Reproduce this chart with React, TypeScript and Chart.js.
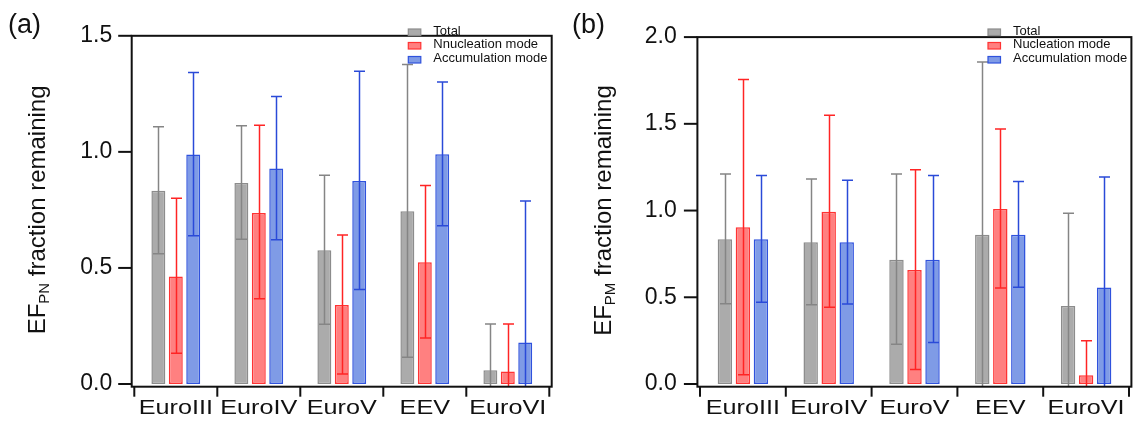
import React, { useEffect, useRef } from 'react';
import { Chart, registerables } from 'chart.js';

Chart.register(...registerables);

const FF = "'Liberation Sans', Arial, Helvetica, sans-serif";

const categories = ['EuroIII', 'EuroIV', 'EuroV', 'EEV', 'EuroVI'];

// Panel (a): EF_PN fraction remaining
const pnTotal = [0.832, 0.866, 0.576, 0.744, 0.059];
const pnTotalLow = [0.561, 0.624, 0.257, 0.115, -0.14];
const pnTotalHigh = [1.108, 1.112, 0.899, 1.376, 0.258];
const pnNuc = [0.463, 0.737, 0.34, 0.525, 0.054];
const pnNucLow = [0.133, 0.367, 0.043, 0.198, -0.15];
const pnNucHigh = [0.8, 1.115, 0.642, 0.855, 0.258];
const pnAcc = [0.989, 0.928, 0.874, 0.99, 0.179];
const pnAccLow = [0.639, 0.621, 0.407, 0.682, -0.43];
const pnAccHigh = [1.342, 1.239, 1.347, 1.301, 0.788];

// Panel (b): EF_PM fraction remaining
const pmTotal = [0.835, 0.817, 0.716, 0.861, 0.45];
const pmTotalLow = [0.462, 0.457, 0.229, -0.135, -0.085];
const pmTotalHigh = [1.211, 1.182, 1.211, 1.857, 0.985];
const pmNuc = [0.903, 0.993, 0.657, 1.009, 0.051];
const pmNucLow = [0.053, 0.442, 0.084, 0.554, -0.148];
const pmNucHigh = [1.756, 1.549, 1.235, 1.47, 0.25];
const pmAcc = [0.835, 0.817, 0.716, 0.861, 0.556];
const pmAccLow = [0.472, 0.461, 0.239, 0.558, -0.08];
const pmAccHigh = [1.202, 1.174, 1.202, 1.167, 1.193];

const legendA = ['Total', 'Nnucleation mode', 'Accumulation mode'];
const legendB = ['Total', 'Nucleation mode', 'Accumulation mode'];

const fills = ['#ababab', '#ff8080', '#7f9be6'];
const borders = ['#8c8c8c', '#ff3333', '#2f52dd'];
const errColors = ['#858585', '#ff2424', '#2a4ad8'];

type PanelCfg = {
  label: string;
  sub: string;
  legend: string[];
  yMax: number;
  values: number[][];
  lows: number[][];
  highs: number[][];
  padRight: number;
  yWidth: number;
  yPad: number;
  titleX: number;
  panelX: number;
};

const panelA: PanelCfg = {
  label: '(a)',
  sub: 'PN',
  legend: legendA,
  yMax: 1.5,
  values: [pnTotal, pnNuc, pnAcc],
  lows: [pnTotalLow, pnNucLow, pnAccLow],
  highs: [pnTotalHigh, pnNucHigh, pnAccHigh],
  padRight: 17.7,
  yWidth: 134.3,
  yPad: 22,
  titleX: 45,
  panelX: 8,
};

const panelB: PanelCfg = {
  label: '(b)',
  sub: 'PM',
  legend: legendB,
  yMax: 2.0,
  values: [pmTotal, pmNuc, pmAcc],
  lows: [pmTotalLow, pmNucLow, pmAccLow],
  highs: [pmTotalHigh, pmNucHigh, pmAccHigh],
  padRight: 5,
  yWidth: 133,
  yPad: 23.3,
  titleX: 44,
  panelX: 5,
};

function makePlugin(cfg: PanelCfg) {
  return {
    id: 'decor',
    afterDatasetsDraw(chart: any) {
      const ctx = chart.ctx;
      const area = chart.chartArea;
      const ys = chart.scales.y;
      ctx.save();
      ctx.beginPath();
      ctx.rect(area.left - 3, area.top, area.right - area.left + 6, area.bottom - area.top + 2.7);
      ctx.clip();
      cfg.values.forEach((_, di) => {
        const meta = chart.getDatasetMeta(di);
        ctx.strokeStyle = errColors[di];
        ctx.lineWidth = 1.5;
        meta.data.forEach((bar: any, i: number) => {
          const x = Math.round(bar.x) + 0.5;
          const yl = ys.getPixelForValue(cfg.lows[di][i]);
          const yh = ys.getPixelForValue(cfg.highs[di][i]);
          ctx.beginPath();
          ctx.moveTo(x, yl);
          ctx.lineTo(x, yh);
          ctx.moveTo(x - 5.5, yh);
          ctx.lineTo(x + 5.5, yh);
          if (cfg.lows[di][i] >= 0) {
            ctx.moveTo(x - 5.5, yl);
            ctx.lineTo(x + 5.5, yl);
          }
          ctx.stroke();
        });
      });
      ctx.restore();
    },
    afterDraw(chart: any) {
      const ctx = chart.ctx;
      const area = chart.chartArea;
      const ys = chart.scales.y;
      const xs = chart.scales.x;
      const fl = area.left - 2.6;
      const fr = area.right + 2.4;
      const ft = area.top;
      const fb = area.bottom + 2.7;
      ctx.save();
      // frame
      ctx.strokeStyle = '#111';
      ctx.lineWidth = 2;
      ctx.strokeRect(fl, ft, fr - fl, fb - ft);
      // y ticks
      ys.ticks.forEach((t: any) => {
        const y = ys.getPixelForValue(t.value);
        ctx.beginPath();
        ctx.moveTo(fl - 13.5, y);
        ctx.lineTo(fl, y);
        ctx.stroke();
      });
      // x category ticks
      for (let i = 0; i <= categories.length; i++) {
        const x = xs.getPixelForValue(i - 0.5);
        ctx.beginPath();
        ctx.moveTo(x, fb);
        ctx.lineTo(x, fb + 10);
        ctx.stroke();
      }
      // x labels
      ctx.fillStyle = '#111';
      ctx.font = `21px ${FF}`;
      ctx.textAlign = 'center';
      ctx.textBaseline = 'alphabetic';
      categories.forEach((c, i) => {
        const x = xs.getPixelForValue(i);
        ctx.save();
        ctx.translate(x, area.bottom + 30);
        ctx.scale(1.2, 1);
        ctx.fillText(c, 0, 0);
        ctx.restore();
      });
      // legend
      const lx = area.right - 141;
      const rows = [32, 45.5, 59.5];
      ctx.font = `13px ${FF}`;
      ctx.textAlign = 'left';
      ctx.textBaseline = 'middle';
      cfg.legend.forEach((lab, i) => {
        ctx.fillStyle = fills[i];
        ctx.fillRect(lx, rows[i] - 3, 12.5, 6.5);
        ctx.strokeStyle = borders[i];
        ctx.lineWidth = 1.2;
        ctx.strokeRect(lx, rows[i] - 3, 12.5, 6.5);
        ctx.fillStyle = '#111';
        ctx.fillText(lab, lx + 25, rows[i] - 1);
      });
      // y title
      const cy = (area.top + area.bottom) / 2;
      ctx.save();
      ctx.translate(cfg.titleX, cy);
      ctx.rotate(-Math.PI / 2);
      ctx.textBaseline = 'alphabetic';
      ctx.textAlign = 'left';
      ctx.font = `24px ${FF}`;
      const w1 = ctx.measureText('EF').width;
      const rest = ' fraction remaining';
      const w3 = ctx.measureText(rest).width;
      ctx.font = `15px ${FF}`;
      const w2 = ctx.measureText(cfg.sub).width;
      let x = -(w1 + w2 + w3) / 2;
      ctx.fillStyle = '#111';
      ctx.font = `24px ${FF}`;
      ctx.fillText('EF', x, 0);
      x += w1;
      ctx.font = `15px ${FF}`;
      ctx.fillText(cfg.sub, x, 4);
      x += w2;
      ctx.font = `24px ${FF}`;
      ctx.fillText(rest, x, 0);
      ctx.restore();
      // panel label
      ctx.font = `27px ${FF}`;
      ctx.textAlign = 'left';
      ctx.textBaseline = 'alphabetic';
      ctx.fillStyle = '#111';
      ctx.fillText(cfg.label, cfg.panelX, 33);
      ctx.restore();
    },
  };
}

function Panel({ cfg }: { cfg: PanelCfg }) {
  const ref = useRef<HTMLCanvasElement | null>(null);
  useEffect(() => {
    if (!ref.current) return;
    const chart = new Chart(ref.current, {
      type: 'bar',
      data: {
        labels: categories,
        datasets: cfg.values.map((v, i) => ({
          label: cfg.legend[i],
          data: v,
          backgroundColor: fills[i],
          borderColor: borders[i],
          borderWidth: 1.5,
          borderSkipped: false,
          categoryPercentage: 0.63,
          barPercentage: 0.8,
        })),
      },
      options: {
        animation: false,
        responsive: false,
        devicePixelRatio: 1,
        layout: { padding: { left: 0, right: cfg.padRight, top: 20.7, bottom: 40 } },
        plugins: { legend: { display: false }, tooltip: { enabled: false } },
        scales: {
          x: { display: false, offset: true },
          y: {
            min: 0,
            max: cfg.yMax,
            afterFit: (s: any) => {
              s.width = cfg.yWidth;
            },
            ticks: {
              stepSize: 0.5,
              callback: (v: any) => Number(v).toFixed(1),
              font: { size: 23, family: FF },
              color: '#111',
              padding: cfg.yPad,
            },
            grid: { display: false, drawTicks: false },
            border: { display: false },
          },
        },
      },
      plugins: [makePlugin(cfg)],
    } as any);
    return () => chart.destroy();
  }, [cfg]);
  return <canvas ref={ref} width={567} height={424} style={{ display: 'block', width: 567, height: 424 }} />;
}

export default function App() {
  return (
    <div style={{ position: 'absolute', left: 0, top: 0, width: 1134, height: 424, display: 'flex', background: '#fff' }}>
      <Panel cfg={panelA} />
      <Panel cfg={panelB} />
    </div>
  );
}
